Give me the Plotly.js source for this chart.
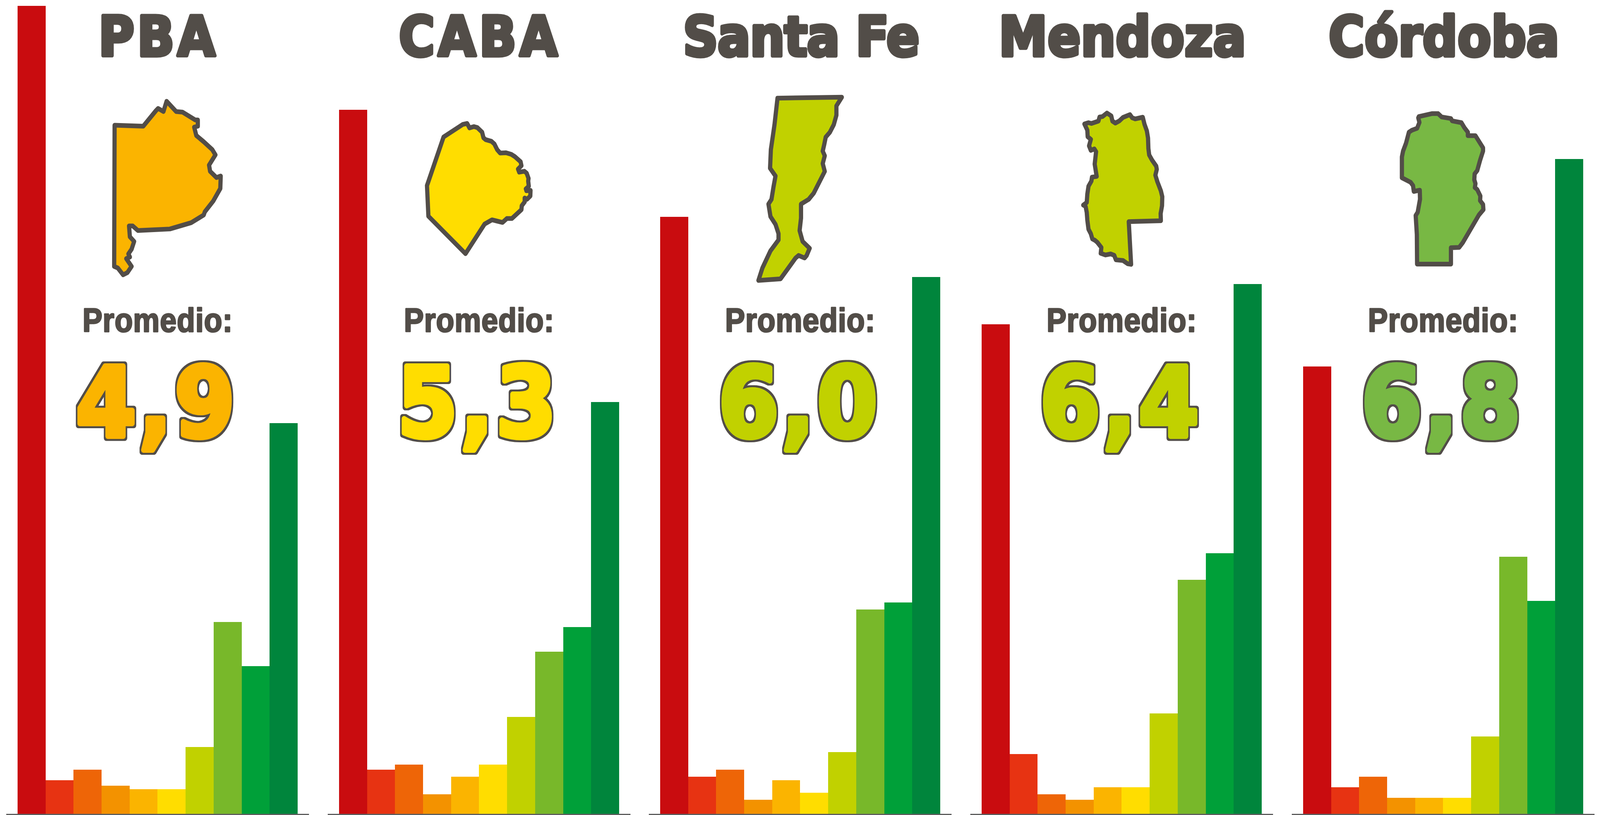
<!DOCTYPE html>
<html><head><meta charset="utf-8">
<script src="https://cdn.plot.ly/plotly-3.0.1.min.js"></script>
<style>html,body{margin:0;padding:0;background:#fff;overflow:hidden}.shapelayer path{stroke-linejoin:round}</style>
</head><body>
<svg width="0" height="0" style="position:absolute"><defs>
<filter id="outline" x="-20%" y="-20%" width="140%" height="140%" color-interpolation-filters="sRGB">
<feMorphology in="SourceAlpha" operator="dilate" radius="5" result="d"/>
<feFlood flood-color="#524D48" result="c"/>
<feComposite in="c" in2="d" operator="in" result="o"/>
<feMerge><feMergeNode in="o"/><feMergeNode in="SourceGraphic"/></feMerge>
</filter></defs></svg>
<div id="chart" style="width:4569px;height:2086px;transform-origin:0 0"></div>
<script>
// Puntajes 1 a 10
const scores = [1,2,3,4,5,6,7,8,9,10];
const barColors = ['#C90C0F','#E73312','#EE6507','#F39200','#FBB400','#FFDD00','#C1D100','#78B82A','#00A039','#00853C'];
const provinces = ['PBA','CABA','Santa Fe','Mendoza','Córdoba'];
const averages = ['4,9','5,3','6,0','6,4','6,8'];
const avgColors = ['#FBB400','#FFDD00','#C1D100','#C1D100','#78B844'];
const pba     = [45.9,1.9,2.5,1.6,1.4,1.4,3.8,10.9,8.4,22.2];
const caba    = [40.0,2.5,2.8,1.1,2.1,2.8,5.5,9.2,10.6,23.4];
const santaFe = [33.9,2.1,2.5,0.8,1.9,1.2,3.5,11.6,12.0,30.5];
const mendoza = [27.8,3.4,1.1,0.8,1.5,1.5,5.7,13.3,14.8,30.1];
const cordoba = [25.4,1.5,2.1,0.9,0.9,0.9,4.4,14.6,12.1,37.2];
const series = [pba,caba,santaFe,mendoza,cordoba];

// Siluetas decorativas (crop coords, scale and offset of the crop they were traced from)
const outlines = [
 {sx:1.65,sy:1.254,ox:0,oy:0,p:[[540,402],[675,405],[735,355],[745,348],[770,358],[785,325],[830,358],[860,360],[920,385],[932,385],[932,405],[915,408],[925,435],[960,455],[1000,480],[1015,497],[985,530],[990,550],[1020,570],[1040,565],[1038,605],[1005,645],[965,680],[960,690],[900,715],[800,735],[650,740],[625,725],[608,725],[612,760],[632,775],[620,800],[605,815],[612,825],[595,830],[620,855],[600,875],[580,882],[555,860],[538,855]]},
 {sx:3,sy:3,ox:1190,oy:280,p:[[88,585],[230,212],[395,115],[432,108],[452,142],[490,132],[520,140],[560,175],[572,218],[590,232],[640,245],[665,265],[690,310],[715,335],[765,333],[810,345],[840,362],[890,402],[897,432],[868,458],[878,482],[922,475],[942,490],[958,530],[955,550],[960,590],[935,610],[940,625],[975,622],[973,665],[945,690],[925,680],[925,710],[900,740],[897,770],[815,838],[772,838],[735,868],[645,848],[582,880],[418,1108],[100,820]]},
 {sx:1.742,sy:1.254,ox:1850,oy:0,p:[[645,315],[965,312],[938,340],[938,370],[925,400],[905,425],[885,440],[877,465],[870,485],[880,500],[870,525],[880,550],[825,620],[800,640],[762,655],[762,700],[755,740],[770,775],[805,797],[790,820],[780,828],[750,820],[735,828],[660,895],[550,900],[570,860],[610,805],[650,770],[650,750],[635,720],[610,695],[600,655],[615,640],[625,600],[635,565],[608,540],[612,480],[630,400]]},
 {sx:3,sy:3,ox:3000,oy:270,p:[[290,142],[325,132],[350,138],[410,120],[420,88],[445,85],[483,58],[520,80],[530,120],[555,135],[590,118],[620,92],[680,70],[700,95],[725,103],[790,90],[805,145],[825,195],[835,250],[838,330],[845,380],[870,420],[905,465],[910,490],[898,535],[915,585],[945,655],[957,700],[955,770],[943,830],[945,885],[670,892],[690,1220],[660,1215],[620,1190],[560,1185],[545,1150],[515,1140],[470,1148],[430,1135],[435,1090],[400,1050],[380,1035],[358,1025],[345,985],[325,950],[315,880],[310,820],[300,775],[280,765],[310,745],[315,680],[325,620],[350,580],[355,550],[395,545],[378,450],[390,355],[375,333],[345,345],[330,310],[345,260],[318,240],[315,190]]},
 {sx:3,sy:3,ox:3920,oy:270,p:[[395,85],[510,62],[560,62],[590,88],[670,100],[680,118],[760,132],[785,170],[815,205],[815,232],[880,232],[945,325],[945,350],[920,420],[895,500],[873,525],[870,570],[880,600],[875,630],[895,645],[922,695],[920,730],[945,760],[948,800],[910,840],[770,1055],[740,1090],[670,1092],[670,1218],[380,1218],[378,990],[368,845],[385,820],[405,720],[403,650],[352,660],[345,615],[325,590],[250,555],[250,395],[260,350],[285,290],[310,205],[335,190],[380,175],[400,130],[390,95]]}
];

const W = 4569, H = 2086;
const INK = '#524D48';
const panelLeft = [50,968,1885,2803,3721];
const titleSpacing = {'PBA':'8px','CABA':'9px','Santa Fe':'-2px','Mendoza':'0px','Córdoba':'0px'};
const barPx = 80, pad = 32, baseY = 2083, pxPerPct = 45.06;
const fx = x => x / W, fy = y => 1 - y / H;

// The browser window may be narrower than the reference: fit the whole page into it.
document.getElementById('chart').style.transform =
  'scale(' + Math.min(1, window.innerWidth / W) + ',' + Math.min(1, window.innerHeight / H) + ')';

const traces = [], layout = {
  width: W, height: H, margin: {l:0,r:0,t:0,b:0}, showlegend: false,
  paper_bgcolor: '#fff', plot_bgcolor: 'rgba(0,0,0,0)', bargap: 0,
  shapes: [], annotations: []
};

provinces.forEach((name, i) => {
  const n = i === 0 ? '' : String(i + 1);
  traces.push({type:'bar', x:scores, y:series[i], xaxis:'x'+n, yaxis:'y'+n, width:1,
    marker:{color:barColors, line:{width:0}}, hoverinfo:'skip'});
  const l = panelLeft[i];
  const lo = 0.5 - pad / barPx, hi = 10.5 + pad / barPx;
  layout['xaxis'+n] = {domain:[fx(l-pad), fx(l+10*barPx+pad)], range:[lo,hi], anchor:'y'+n,
    showline:true, linecolor:'#5F5F5F', linewidth:3, showgrid:false, zeroline:false,
    showticklabels:false, ticks:''};
  layout['yaxis'+n] = {domain:[fy(baseY),1], range:[0, baseY/pxPerPct], anchor:'x'+n,
    showline:false, showgrid:false, zeroline:false, showticklabels:false, ticks:''};

  const cx = l + 5*barPx;
  layout.annotations.push({xref:'paper',yref:'paper',x:fx(cx+2),y:fy(94.5),xanchor:'center',yanchor:'middle',showarrow:false,
    text:name,font:{family:'DejaVu Sans',weight:700,size:140,color:INK}});
  layout.annotations.push({xref:'paper',yref:'paper',x:fx(cx),y:fy(820),xanchor:'center',yanchor:'middle',showarrow:false,
    text:'Promedio:',font:{family:'Liberation Sans',weight:700,size:85,color:INK}});
  layout.annotations.push({xref:'paper',yref:'paper',x:fx(cx-2),y:fy(1032),xanchor:'center',yanchor:'middle',showarrow:false,
    text:averages[i],font:{family:'DejaVu Sans',weight:700,size:247,color:avgColors[i]}});

  const o = outlines[i];
  const path = o.p.map((q,k)=>(k?'L':'M')+fx(q[0]/o.sx+o.ox).toFixed(5)+' '+fy(q[1]/o.sy+o.oy).toFixed(5)).join(' ')+' Z';
  layout.shapes.push({type:'path',xref:'paper',yref:'paper',path,fillcolor:avgColors[i],line:{color:INK,width:12},layer:'above'});
});

Plotly.newPlot('chart', traces, layout, {staticPlot:true, displayModeBar:false}).then(() => {
  document.querySelectorAll('.annotation-text').forEach(t => {
    const s = t.textContent;
    t.style.strokeLinejoin = 'round';
    if (s.includes(',')) {
      t.style.stroke = avgColors[averages.indexOf(s)];
      t.style.strokeWidth = '14px';
      t.style.letterSpacing = '8px';
      t.style.filter = 'url(#outline)';
    } else if (s.startsWith('Promedio')) {
      t.style.stroke = INK; t.style.strokeWidth = '3.5px';
      t.style.letterSpacing = '1px';
    } else {
      t.style.stroke = INK; t.style.strokeWidth = '9px';
      t.style.letterSpacing = titleSpacing[s] || '0px';
    }
  });
});
</script></body></html>
